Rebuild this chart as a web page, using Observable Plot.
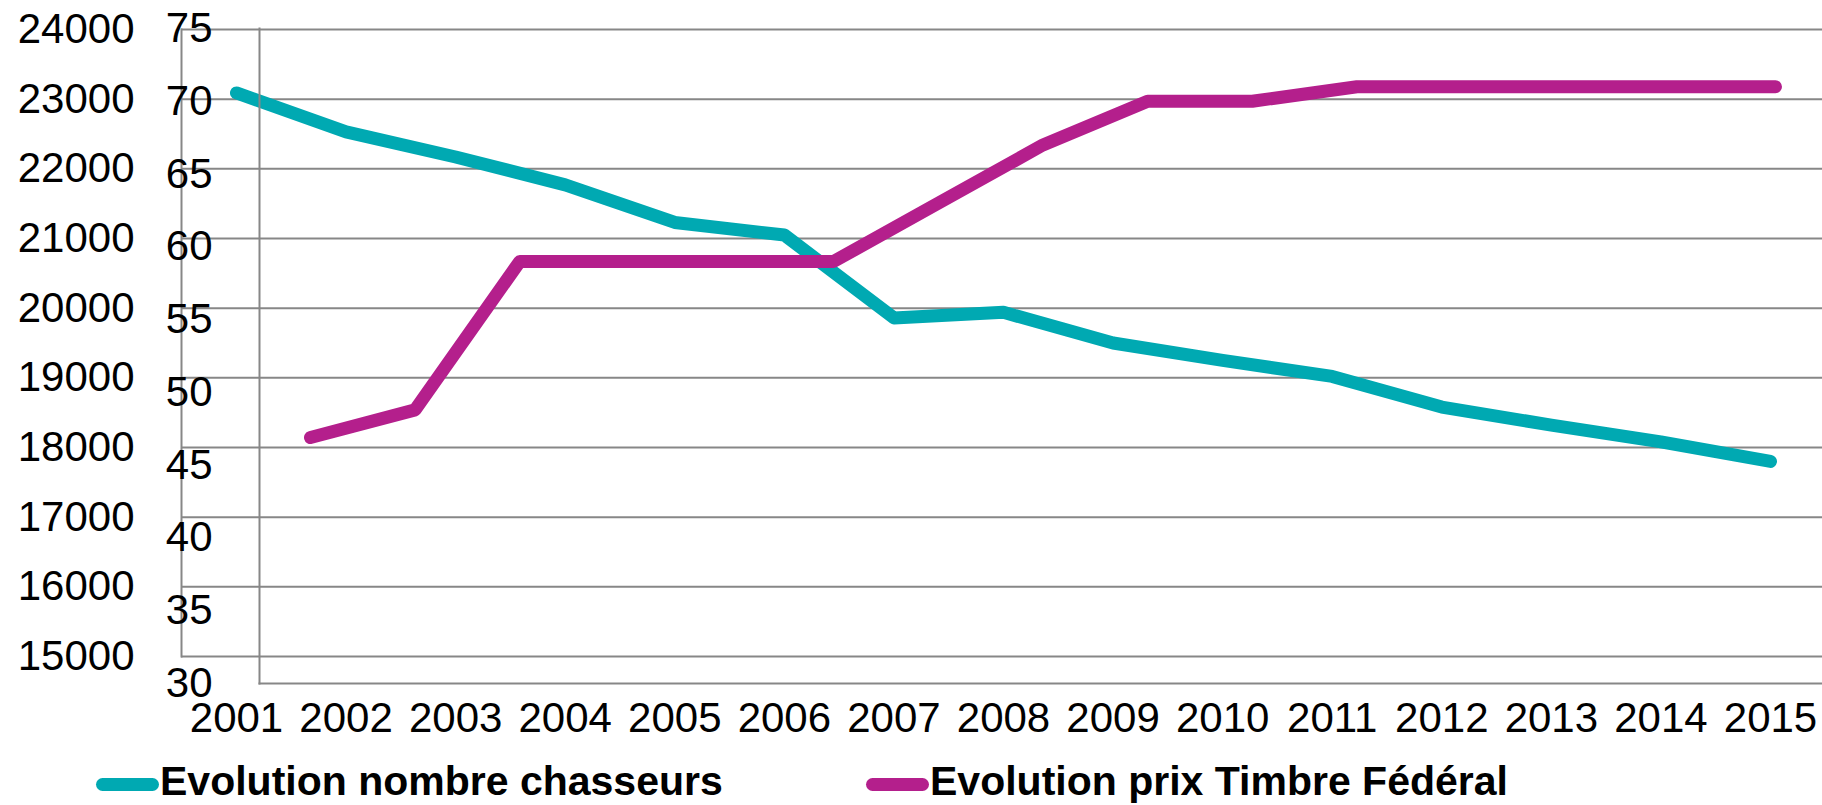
<!DOCTYPE html>
<html>
<head>
<meta charset="utf-8">
<script src="https://cdn.jsdelivr.net/npm/d3@7"></script>
<script src="https://cdn.jsdelivr.net/npm/@observablehq/plot@0.6"></script>
<style>
  html, body { margin: 0; padding: 0; background: #fff; }
  #wrap { position: relative; width: 1822px; height: 805px; overflow: hidden; font-family: "Liberation Sans", Arial, sans-serif; }
  #wrap svg { position: absolute; left: 0; top: 0; }
  .leg { position: absolute; top: 740px; height: 65px; }
  .sw { position: absolute; top: 38px; width: 63px; height: 13px; border-radius: 7px; }
  .lt { position: absolute; top: 22px; font-weight: bold; font-size: 41px; line-height: 41px; color: #000; white-space: nowrap; }
</style>
</head>
<body>
<div id="wrap"></div>
<script>
// ---- data ----
const years = [2001, 2002, 2003, 2004, 2005, 2006, 2007, 2008, 2009, 2010, 2011, 2012, 2013, 2014, 2015];
const chasseurs = [23090, 22530, 22170, 21770, 21230, 21050, 19860, 19940, 19500, 19250, 19020, 18580, 18320, 18080, 17800];
const prixTimbre = [46.9, 48.8, 59, 59, 59, 59, 63, 67, 70, 70, 71, 71, 71, 71, 71];
const ticksChasseurs = [15000, 16000, 17000, 18000, 19000, 20000, 21000, 22000, 23000, 24000];
const ticksPrix = [30, 35, 40, 45, 50, 55, 60, 65, 70, 75];
const seriesNames = ["Evolution nombre chasseurs", "Evolution prix Timbre Fédéral"];
const colors = ["#00A9B2", "#B41F8C"];

const W = 1822, H = 740;
const gridColor = "#878787";
const fmt = d => String(d);

const dataA = years.map((y, i) => ({year: y, value: chasseurs[i]}));
const dataB = years.map((y, i) => ({year: y, value: prixTimbre[i]}));

// Chart A: hunters (outer axis 15000–24000, grid, year labels)
const chartA = Plot.plot({
  width: W, height: H,
  marginLeft: 181, marginRight: 0, marginTop: 29, marginBottom: 84,
  style: {background: "transparent", fontFamily: "Liberation Sans, Arial, sans-serif", fontSize: "42px", color: "#000", overflow: "visible"},
  x: {domain: [2001, 2015], range: [236, 1770]},
  y: {domain: [15000, 24000]},
  marks: [
    Plot.ruleY(ticksChasseurs, {stroke: gridColor, strokeWidth: 2}),
    Plot.frame({anchor: "left", stroke: gridColor, strokeWidth: 2}),
    Plot.axisY({ticks: ticksChasseurs, tickFormat: fmt, tickSize: 0, tickPadding: 47, fontSize: 42, label: null}),
    Plot.axisX({ticks: years, tickFormat: fmt, tickSize: 0, tickPadding: 46, fontSize: 42, label: null}),
    Plot.line(dataA, {x: "year", y: "value", stroke: colors[0], strokeWidth: 13, strokeLinecap: "round", strokeLinejoin: "round"})
  ]
});

// Chart B: federal stamp price (inner axis 30–75)
const chartB = Plot.plot({
  width: W, height: H,
  marginLeft: 259, marginRight: 0, marginTop: 28, marginBottom: 57,
  style: {background: "transparent", fontFamily: "Liberation Sans, Arial, sans-serif", fontSize: "42px", color: "#000", overflow: "visible"},
  x: {domain: [2001, 2015], range: [310, 1775], axis: null},
  y: {domain: [30, 75]},
  marks: [
    Plot.frame({anchor: "left", stroke: gridColor, strokeWidth: 2}),
    Plot.frame({anchor: "bottom", stroke: gridColor, strokeWidth: 2}),
    Plot.axisY({ticks: ticksPrix, tickFormat: fmt, tickSize: 0, tickPadding: 47, fontSize: 42, label: null}),
    Plot.line(dataB, {x: "year", y: "value", stroke: colors[1], strokeWidth: 13, strokeLinecap: "round", strokeLinejoin: "round"})
  ]
});

const wrap = document.getElementById("wrap");
wrap.appendChild(chartA);
wrap.appendChild(chartB);

// legend
const legPos = [{sw: 96, tx: 160}, {sw: 866, tx: 930}];
seriesNames.forEach((name, i) => {
  const sw = document.createElement("div");
  sw.className = "leg sw";
  sw.style.left = legPos[i].sw + "px";
  sw.style.top = (740 + 38) + "px";
  sw.style.background = colors[i];
  wrap.appendChild(sw);
  const t = document.createElement("div");
  t.className = "leg lt";
  t.style.left = legPos[i].tx + "px";
  t.style.top = (740 + 21) + "px";
  t.textContent = name;
  wrap.appendChild(t);
});
</script>
</body>
</html>
